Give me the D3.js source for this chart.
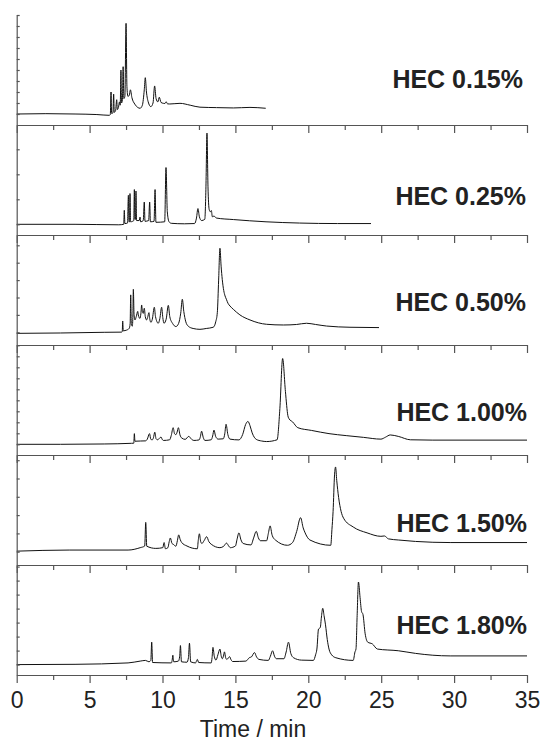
<!DOCTYPE html>
<html>
<head>
<meta charset="utf-8">
<script src="https://cdn.jsdelivr.net/npm/d3@7"></script>
<style>
  body { margin: 0; background: #fff; }
  svg { display: block; font-family: "Liberation Sans", Arial, sans-serif; }
  .axis path, .axis line { stroke: #555; stroke-width: 1.2; }
</style>
</head>
<body>
<div id="chart"></div>
<script>
// HEC concentration for each electropherogram, top to bottom
var labels = ["HEC 0.15%", "HEC 0.25%", "HEC 0.50%", "HEC 1.00%", "HEC 1.50%", "HEC 1.80%"];

var xMajorTicks = [0, 5, 10, 15, 20, 25, 30, 35];
var xMinorTicks = [2.5, 7.5, 12.5, 17.5, 22.5, 27.5, 32.5];

// [time (min), signal (a.u.)]
var trace015 = [[0,0],[2,0.03],[4,0.0],[5.5,-0.05],[6.35,-0.12],[6.42,-0.05],[6.47,2.0],[6.51,0.05],[6.6,0.1],[6.65,1.8],[6.69,0.15],[6.78,0.3],[6.86,1.3],[6.9,0.4],[6.98,0.6],[7.05,1.1],[7.1,0.8],[7.15,4.0],[7.19,1.0],[7.25,1.3],[7.3,4.3],[7.35,1.4],[7.42,1.6],[7.5,8.24],[7.56,2.5],[7.63,1.6],[7.72,1.7],[7.8,2.2],[7.9,1.5],[8.1,0.9],[8.3,0.6],[8.46,0.52],[8.62,0.8],[8.75,2.2],[8.82,3.3],[8.9,2.0],[9.02,1.1],[9.2,0.67],[9.35,1.0],[9.46,2.55],[9.56,1.4],[9.68,1.1],[9.78,1.52],[9.9,1.05],[10.06,0.97],[10.16,0.95],[10.24,1.12],[10.35,0.92],[10.5,0.91],[11.2,0.97],[11.9,0.8],[12.57,0.62],[13.7,0.58],[14.86,0.55],[16.0,0.6],[17.08,0.52]];

var trace025 = [[0,0],[4,0.0],[7.0,-0.02],[7.34,0.0],[7.38,0.56],[7.42,0.03],[7.6,0.05],[7.66,1.16],[7.7,0.1],[7.74,0.1],[7.77,1.23],[7.81,0.1],[7.95,0.12],[8.03,0.15],[8.07,1.39],[8.11,0.2],[8.15,0.2],[8.18,1.33],[8.22,0.15],[8.4,0.15],[8.46,0.29],[8.5,0.1],[8.68,0.15],[8.75,0.89],[8.8,0.12],[9.05,0.15],[9.12,0.89],[9.17,0.1],[9.42,0.12],[9.49,1.39],[9.55,0.08],[10.15,0.1],[10.24,2.27],[10.33,0.5],[10.45,0.1],[10.6,0.04],[11.5,0.02],[12.2,0.03],[12.33,0.25],[12.43,0.63],[12.53,0.3],[12.68,0.15],[12.9,0.2],[12.98,1.5],[13.05,3.65],[13.12,1.5],[13.2,0.6],[13.28,0.5],[13.35,0.55],[13.42,0.3],[13.53,0.33],[13.7,0.25],[14.86,0.19],[17.1,0.1],[19.4,0.05],[22,0.03],[24.3,0.03]];

var trace050 = [[0,-0.06],[3,-0.04],[6,0.0],[7.2,0.01],[7.24,0.05],[7.27,0.65],[7.31,0.08],[7.43,0.1],[7.6,0.15],[7.72,0.23],[7.78,0.5],[7.82,2.15],[7.86,0.5],[7.93,0.35],[7.97,1.0],[8.0,2.47],[8.05,1.0],[8.11,0.71],[8.2,0.9],[8.3,1.2],[8.34,1.0],[8.45,0.8],[8.52,1.1],[8.57,1.57],[8.62,1.2],[8.68,1.09],[8.75,1.38],[8.82,0.9],[8.91,0.71],[8.98,0.85],[9.07,1.13],[9.13,0.75],[9.21,0.57],[9.3,0.75],[9.44,1.44],[9.52,0.9],[9.71,0.52],[9.82,0.8],[9.94,1.44],[10.02,0.85],[10.1,0.52],[10.25,0.75],[10.4,1.55],[10.5,0.9],[10.7,0.5],[10.92,0.33],[11.1,0.5],[11.25,1.1],[11.36,1.9],[11.46,1.2],[11.6,0.6],[11.77,0.35],[12.1,0.22],[12.57,0.17],[13.0,0.22],[13.48,0.29],[13.65,0.6],[13.76,1.13],[13.85,3.0],[13.94,4.83],[14.02,3.8],[14.1,3.03],[14.2,2.4],[14.29,2.09],[14.38,1.9],[14.49,1.67],[14.63,1.51],[14.86,1.32],[15.31,1.0],[16.0,0.71],[17.14,0.46],[18.29,0.42],[19.2,0.45],[19.88,0.52],[20.5,0.45],[21.25,0.36],[22.86,0.29],[24.85,0.27]];

var trace100 = [[0,0],[3,0.0],[6,0.03],[7.88,0.09],[8.03,0.1],[8.07,0.97],[8.11,0.28],[8.5,0.3],[8.83,0.31],[8.95,0.45],[9.11,0.97],[9.2,0.45],[9.3,0.41],[9.38,0.6],[9.47,1.1],[9.56,0.5],[9.66,0.41],[9.9,0.66],[9.98,0.45],[10.06,0.35],[10.49,0.41],[10.6,0.8],[10.73,1.51],[10.83,0.95],[10.92,0.88],[11.0,1.1],[11.09,1.51],[11.2,0.85],[11.32,0.57],[11.56,0.45],[11.8,0.72],[12.0,0.45],[12.15,0.35],[12.51,0.4],[12.6,0.7],[12.68,1.19],[12.8,0.6],[12.91,0.35],[13.34,0.41],[13.44,0.75],[13.53,1.29],[13.65,0.7],[13.82,0.47],[14.17,0.5],[14.27,0.95],[14.36,1.82],[14.48,0.9],[14.63,0.47],[15.24,0.4],[15.5,0.9],[15.7,1.8],[15.86,2.08],[16.0,1.7],[16.15,1.04],[16.43,0.45],[16.8,0.3],[17.14,0.25],[17.86,0.41],[18.05,3.24],[18.24,7.8],[18.43,4.81],[18.6,2.6],[18.69,2.3],[18.92,2.04],[19.28,1.51],[20.23,1.26],[21.42,0.97],[22.6,0.79],[23.79,0.63],[24.98,0.47],[25.3,0.65],[25.62,0.85],[26.17,0.72],[27.0,0.41],[28.54,0.38],[35,0.38]];

var trace150 = [[0,0.03],[3.6,0.09],[7.64,0.09],[8.47,0.22],[8.78,0.31],[8.85,1.6],[8.92,0.3],[9.54,0.18],[10.02,0.22],[10.11,0.5],[10.2,0.16],[10.37,0.22],[10.46,0.55],[10.54,0.75],[10.65,0.45],[10.73,0.41],[10.92,0.3],[11.02,0.6],[11.11,0.92],[11.22,0.65],[11.32,0.5],[11.68,0.31],[12.39,0.16],[12.45,0.6],[12.53,0.98],[12.62,0.55],[12.7,0.45],[12.85,0.6],[13.03,0.82],[13.18,0.55],[13.34,0.41],[13.94,0.22],[14.2,0.3],[14.39,0.47],[14.55,0.3],[14.65,0.22],[15.0,0.31],[15.12,0.7],[15.24,1.03],[15.38,0.65],[15.53,0.45],[16.07,0.37],[16.25,0.75],[16.43,1.11],[16.58,0.75],[16.72,0.6],[17.14,0.6],[17.26,1.0],[17.38,1.41],[17.52,0.9],[17.74,0.64],[18.57,0.35],[18.92,0.5],[19.2,1.1],[19.47,1.86],[19.65,1.3],[19.76,1.07],[20.11,0.64],[21.54,0.35],[21.62,1.2],[21.7,2.2],[21.8,4.2],[21.87,4.63],[21.95,3.9],[22.08,2.96],[22.25,2.2],[22.42,1.83],[23.08,1.35],[24.03,1.03],[24.98,0.84],[25.22,0.86],[25.5,0.7],[26.17,0.64],[27.36,0.56],[29.73,0.5],[35,0.5]];

var trace180 = [[0,0],[4,0.02],[7.64,0.12],[8.47,0.25],[8.83,0.3],[9.07,0.2],[9.2,0.3],[9.26,1.6],[9.32,0.15],[10.61,0.12],[10.66,0.3],[10.71,0.67],[10.77,0.2],[11.09,0.25],[11.18,0.6],[11.23,1.36],[11.3,0.2],[11.68,0.17],[11.78,0.5],[11.85,1.53],[11.93,0.2],[12.27,0.12],[12.33,0.25],[12.39,0.37],[12.48,0.15],[13.34,0.12],[13.4,0.5],[13.46,1.23],[13.55,0.6],[13.67,0.32],[13.8,0.7],[13.94,1.11],[14.03,0.6],[14.1,0.42],[14.18,0.6],[14.25,0.91],[14.33,0.5],[14.41,0.37],[14.5,0.45],[14.6,0.57],[14.7,0.35],[14.81,0.22],[15.72,0.25],[15.95,0.49],[16.1,0.55],[16.31,0.86],[16.45,0.55],[16.62,0.37],[17.26,0.3],[17.4,0.6],[17.55,0.99],[17.68,0.6],[17.81,0.42],[18.33,0.42],[18.48,0.9],[18.64,1.6],[18.8,0.8],[18.99,0.49],[19.52,0.32],[20.35,0.3],[20.5,0.7],[20.59,1.11],[20.7,2.54],[20.82,2.64],[20.9,3.4],[20.99,4.02],[21.08,3.5],[21.18,2.84],[21.3,1.8],[21.42,1.11],[21.6,0.7],[21.89,0.49],[23.08,0.3],[23.2,0.9],[23.27,1.11],[23.35,3.5],[23.44,5.9],[23.55,4.8],[23.65,3.8],[23.75,3.58],[23.9,2.2],[24.08,1.6],[24.39,1.48],[24.74,1.11],[26.17,0.99],[27.36,0.8],[28.54,0.67],[29.73,0.62],[35,0.62]];

var traces = [trace015, trace025, trace050, trace100, trace150, trace180];

var width = 542;
var height = 742;
var left = 16.7, right = 527;
var top0 = 15, panelH = 110;

// per panel: pixel gap from panel bottom to the zero line, and px per y unit
var baseOffset = [11, 10.7, 12.7, 10.7, 13.3, 10.4];
var unitPx = [11, 25, 17.4, 11, 18.3, 14];
var labelDy = [73, 80, 76, 76, 77, 69];
var labelRight = [523, 526, 526, 527, 527, 527];

var svg = d3.select("#chart")
  .append("svg")
  .attr("width", width)
  .attr("height", height);

var x = d3.scaleLinear().domain([0, 35]).range([left, right]);

labels.forEach(function(lab, i) {
  var pTop = top0 + i * panelH;
  var pBot = pTop + panelH;
  var lo = -baseOffset[i] / unitPx[i];
  var hi = (panelH - baseOffset[i]) / unitPx[i];
  var y = d3.scaleLinear().domain([lo, hi]).range([pBot, pTop]);

  var g = svg.append("g");

  var line = d3.line()
    .x(function(d) { return x(d[0]); })
    .y(function(d) { return y(d[1]); })
    .curve(d3.curveMonotoneX);

  g.append("path")
    .datum(traces[i])
    .attr("d", line)
    .attr("fill", "none")
    .attr("stroke", "#111")
    .attr("stroke-width", 1)
    .attr("stroke-linejoin", "round");

  // left axis, small inward ticks
  g.append("g")
    .attr("class", "axis")
    .attr("transform", "translate(" + left + ",0)")
    .call(d3.axisRight(y).tickValues(d3.range(0, Math.floor(hi) + 1)).tickSize(3).tickSizeOuter(0).tickFormat(""));

  // bottom axis: minor and major ticks
  var last = (i === labels.length - 1);
  g.append("g")
    .attr("class", "axis")
    .attr("transform", "translate(0," + pBot + ")")
    .call(d3.axisBottom(x).tickValues(xMinorTicks).tickSize(5).tickSizeOuter(0).tickFormat(""));

  var major = g.append("g")
    .attr("class", "axis")
    .attr("transform", "translate(0," + pBot + ")")
    .call(d3.axisBottom(x).tickValues(xMajorTicks).tickSize(8).tickSizeOuter(0)
      .tickFormat(last ? d3.format("d") : ""));
  major.select(".domain").remove();
  major.selectAll("text")
    .attr("y", 17)
    .style("font-size", "23px")
    .style("fill", "#222");

  g.append("text")
    .attr("x", labelRight[i])
    .attr("y", pTop + labelDy[i])
    .attr("text-anchor", "end")
    .style("font-size", "25px")
    .style("font-weight", "bold")
    .style("fill", "#222")
    .text(lab);
});

svg.append("text")
  .attr("x", 253)
  .attr("y", 737)
  .attr("text-anchor", "middle")
  .style("font-size", "23px")
  .style("fill", "#222")
  .text("Time / min");
</script>
</body>
</html>
